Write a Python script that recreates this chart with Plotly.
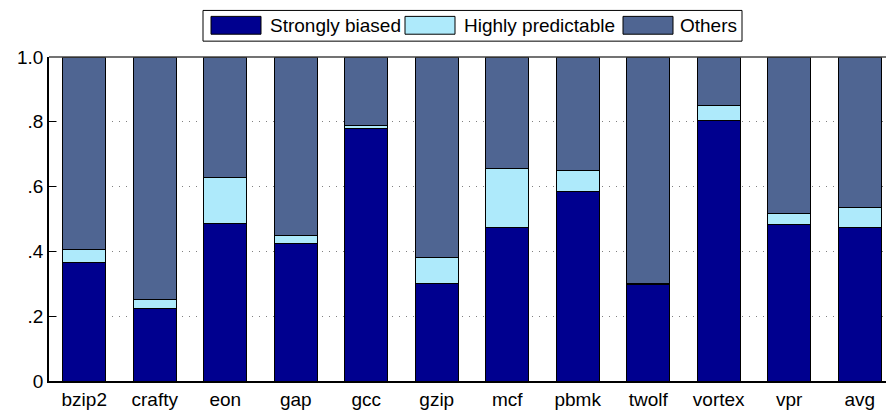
import plotly.graph_objects as go

# Fraction of dynamic branches per benchmark, split into three classes
benchmarks = ["bzip2", "crafty", "eon", "gap", "gcc", "gzip",
              "mcf", "pbmk", "twolf", "vortex", "vpr", "avg"]
strongly_biased = [0.366, 0.224, 0.486, 0.425, 0.780, 0.301,
                   0.475, 0.586, 0.298, 0.804, 0.482, 0.475]
highly_predictable = [0.039, 0.027, 0.142, 0.025, 0.010, 0.080,
                      0.182, 0.064, 0.004, 0.045, 0.035, 0.059]
others = [round(1 - s - h, 3) for s, h in zip(strongly_biased, highly_predictable)]

series_names = ["Strongly biased", "Highly predictable", "Others"]
series_values = [strongly_biased, highly_predictable, others]
series_colors = ["#00008f", "#aeeafb", "#4f6592"]

y_tickvals = [0, 0.2, 0.4, 0.6, 0.8, 1.0]
y_ticktext = ["0", ".2", ".4", ".6", ".8", "1.0"]

W, H = 886, 410
M_L, M_T, M_B, M_R = 49, 57, 26, 0
PW, PH = W - M_L - M_R, H - M_T - M_B

fig = go.Figure()
for name, vals, color in zip(series_names, series_values, series_colors):
    fig.add_trace(go.Bar(
        x=benchmarks, y=vals, name=name,
        marker=dict(color=color, line=dict(color="black", width=1)),
        showlegend=False,
    ))


def px_x(px):
    return (px - M_L) / PW


def px_y(py):
    return (H - M_B - py) / PH


# Boxed legend with wide swatches above the plot
shapes = [dict(type="rect", xref="paper", yref="paper",
               x0=px_x(203), x1=px_x(742), y0=px_y(41), y1=px_y(10),
               line=dict(color="black", width=1), fillcolor="white")]
annotations = []
legend_items = [(211, 268), (405, 462), (623, 678)]
for (sx, tx), name, color in zip(legend_items, series_names, series_colors):
    shapes.append(dict(type="rect", xref="paper", yref="paper",
                       x0=px_x(sx), x1=px_x(sx + 50), y0=px_y(34), y1=px_y(16),
                       line=dict(color="black", width=1), fillcolor=color))
    annotations.append(dict(text=name, xref="paper", yref="paper",
                            x=px_x(tx), y=px_y(25), xanchor="left", yanchor="middle",
                            showarrow=False,
                            font=dict(size=19, color="black", family="Liberation Sans")))

fig.update_layout(
    width=W, height=H,
    margin=dict(l=M_L, r=M_R, t=M_T, b=M_B, pad=0),
    barmode="stack", bargap=0.39,
    plot_bgcolor="white", paper_bgcolor="white",
    font=dict(family="Liberation Sans", size=19, color="black"),
    shapes=shapes, annotations=annotations,
    xaxis=dict(range=[-0.5, 11.373], showgrid=False, ticks="",
               showline=True, linecolor="black", linewidth=1.5,
               mirror=False, tickfont=dict(size=19)),
    yaxis=dict(range=[0, 1], tickvals=y_tickvals, ticktext=y_ticktext,
               ticks="inside", ticklen=7, tickcolor="black",
               showline=True, linecolor="black", linewidth=1.5,
               showgrid=True, gridcolor="#808080", griddash="1px,6px", gridwidth=1,
               zeroline=False, tickfont=dict(size=19)),
)

# Thin dark frame line along the top of the plot area
fig.add_shape(type="line", xref="paper", yref="paper", x0=0, x1=1, y0=1, y1=1,
              line=dict(color="#444444", width=1.5))

fig.write_html("out.html")
